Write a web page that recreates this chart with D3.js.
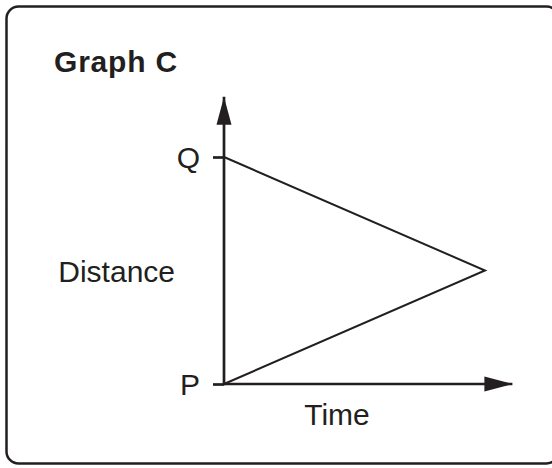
<!DOCTYPE html>
<html>
<head>
<meta charset="utf-8">
<script src="https://cdn.jsdelivr.net/npm/d3@7"></script>
<style>
  html, body { margin: 0; padding: 0; background: #fff; }
  svg { display: block; }
  text { font-family: "Liberation Sans", Arial, Helvetica, sans-serif; fill: #231f20; }
</style>
</head>
<body>
<svg id="chart" width="552" height="468"></svg>
<script>
// ---- data ----
const title = "Graph C";
const xLabel = "Time";
const yLabel = "Distance";
const yTickLabels = ["P", "Q"];          // named distance levels
const yTickValues = [0, 1];
const times = [0, 1, 0];                  // time of each vertex of the journey
const distances = [0, 0.5, 1];            // distance of each vertex (P=0, Q=1)
const xAxisEnd = 1.105;                   // axis arrow extents (data units)
const yAxisEnd = 1.265;

// ---- layout ----
const W = 552, H = 468;
const ink = "#231f20";
const svg = d3.select("#chart");

const x = d3.scaleLinear().domain([0, 1]).range([224, 485]);
const y = d3.scaleLinear().domain([0, 1]).range([384, 157]);

// frame
svg.append("rect")
  .attr("x", 6.5).attr("y", 6.5)
  .attr("width", 552).attr("height", 457)
  .attr("rx", 12).attr("ry", 12)
  .attr("fill", "none").attr("stroke", ink).attr("stroke-width", 2.5);

// title
svg.append("text")
  .attr("x", 54).attr("y", 72)
  .attr("font-size", 30).attr("font-weight", "bold")
  .attr("letter-spacing", 0.8)
  .text(title);

// arrow markers
const defs = svg.append("defs");
defs.append("marker")
  .attr("id", "arrow")
  .attr("viewBox", "0 0 28 16")
  .attr("refX", 28).attr("refY", 8)
  .attr("markerWidth", 28).attr("markerHeight", 16)
  .attr("markerUnits", "userSpaceOnUse")
  .attr("orient", "auto")
  .append("path")
  .attr("d", "M0,0.5 L28,8 L0,15.5 Z")
  .attr("fill", ink);

// y axis (line with arrow)
svg.append("line")
  .attr("x1", x(0)).attr("y1", y(0) + 1.3)
  .attr("x2", x(0)).attr("y2", y(yAxisEnd))
  .attr("stroke", ink).attr("stroke-width", 2.7)
  .attr("marker-end", "url(#arrow)");

// x axis (line with arrow)
svg.append("line")
  .attr("x1", x(0)).attr("y1", y(0))
  .attr("x2", x(xAxisEnd)).attr("y2", y(0))
  .attr("stroke", ink).attr("stroke-width", 2.7)
  .attr("marker-end", "url(#arrow)");

// y ticks via d3 axis
const yAxis = d3.axisLeft(y)
  .tickValues(yTickValues)
  .tickFormat((d, i) => yTickLabels[i])
  .tickSize(11)
  .tickPadding(13);
const gy = svg.append("g")
  .attr("transform", `translate(${x(0)},0)`)
  .call(yAxis);
gy.select(".domain").remove();
gy.selectAll(".tick line").attr("stroke", ink).attr("stroke-width", 2.7);
gy.selectAll(".tick text")
  .attr("font-size", 30)
  .attr("font-family", "'Liberation Sans', Arial, sans-serif")
  .attr("fill", ink)
  .attr("dy", "0.36em");

// data line
const line = d3.line().x(d => x(d[0])).y(d => y(d[1]));
svg.append("path")
  .datum(times.map((t, i) => [t, distances[i]]))
  .attr("d", line)
  .attr("fill", "none")
  .attr("stroke", ink)
  .attr("stroke-width", 2)
  .attr("stroke-linejoin", "miter");

// axis labels
svg.append("text")
  .attr("x", 175).attr("y", y(0.5) + 11)
  .attr("text-anchor", "end")
  .attr("font-size", 30)
  .text(yLabel);

svg.append("text")
  .attr("x", 337).attr("y", 425)
  .attr("text-anchor", "middle")
  .attr("font-size", 30)
  .text(xLabel);
</script>
</body>
</html>
